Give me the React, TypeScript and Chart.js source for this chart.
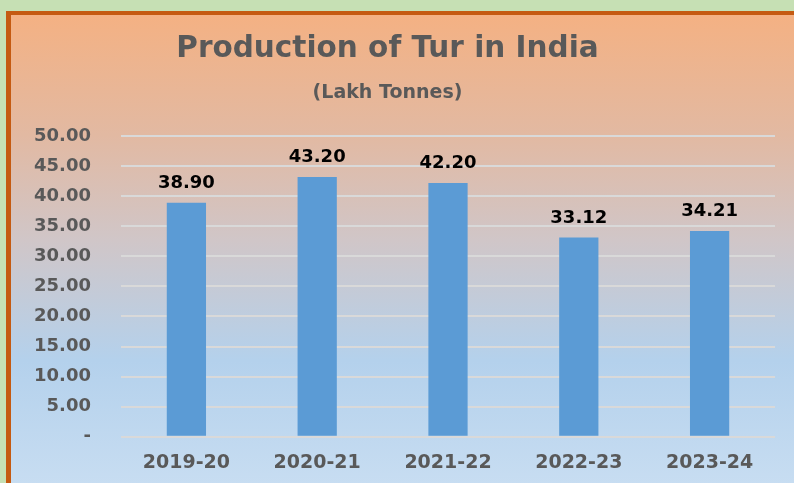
import React, { useEffect, useRef } from "react";
import { Chart, registerables } from "chart.js";

Chart.register(...registerables);

const categories = ["2019-20", "2020-21", "2021-22", "2022-23", "2023-24"];
const production = [38.9, 43.2, 42.2, 33.12, 34.21];
const titleText = "Production of Tur in India";
const subtitleText = "(Lakh Tonnes)";

const FONT = "'DejaVu Sans', Verdana, sans-serif";

const valueLabels = {
  id: "valueLabels",
  afterDatasetsDraw(chart: any) {
    const ctx = chart.ctx;
    const meta = chart.getDatasetMeta(0);
    ctx.save();
    ctx.font = `bold 18px ${FONT}`;
    ctx.fillStyle = "#000000";
    ctx.textAlign = "center";
    ctx.textBaseline = "alphabetic";
    meta.data.forEach((bar: any, i: number) => {
      const v = chart.data.datasets[0].data[i] as number;
      ctx.fillText(v.toFixed(2), bar.x, bar.y - 15);
    });
    ctx.restore();
  },
};

export default function App() {
  const ref = useRef<HTMLCanvasElement>(null);
  useEffect(() => {
    if (!ref.current) return;
    const chart = new Chart(ref.current, {
      type: "bar",
      data: {
        labels: categories,
        datasets: [
          {
            data: production,
            backgroundColor: "#5B9BD5",
            barPercentage: 0.3,
            categoryPercentage: 1,
          },
        ],
      },
      options: {
        animation: false,
        responsive: true,
        maintainAspectRatio: false,
        layout: { padding: { left: 0, right: 19, top: 0, bottom: 9.6 } },
        plugins: {
          legend: { display: false },
          tooltip: { enabled: false },
          title: {
            display: true,
            text: titleText,
            color: "#595959",
            font: { family: FONT, size: 29.5, weight: "bold" },
            padding: { top: 31.5, bottom: 14.3 },
          },
          subtitle: {
            display: true,
            text: subtitleText,
            color: "#595959",
            font: { family: FONT, size: 19, weight: "bold" },
            padding: { top: 0, bottom: 32 },
          },
        },
        scales: {
          x: {
            afterFit(scale: any) {
              scale.height = 36.6;
            },
            grid: { display: false, drawTicks: false },
            border: { display: false },
            ticks: {
              color: "#595959",
              font: { family: FONT, size: 19, weight: "bold" },
              padding: 14.6,
            },
          },
          y: {
            min: 0,
            max: 50,
            afterFit(scale: any) {
              scale.width = 121;
            },
            grid: { color: "#D9D9D9", lineWidth: 2, drawTicks: false },
            border: { display: false },
            ticks: {
              stepSize: 5,
              color: "#595959",
              font: { family: FONT, size: 18, weight: "bold" },
              padding: 30,
              callback: (v: any) => (Number(v) === 0 ? "-" : Number(v).toFixed(2)),
            },
          },
        },
      },
      plugins: [valueLabels],
    });
    return () => chart.destroy();
  }, []);

  return (
    <div
      style={{
        position: "fixed",
        left: 0,
        top: 0,
        width: 794,
        height: 483,
        background: "#C6E0B4",
        overflow: "hidden",
      }}
    >
      <div
        style={{
          position: "absolute",
          left: 6,
          top: 11,
          width: 800,
          height: 480,
          borderLeft: "5px solid #C55A11",
          borderTop: "4px solid #C55A11",
          background:
            "linear-gradient(#F4B183 0%, #E2B9A2 25%, #D0C6C8 47%, #B4D1EC 72%, #C9DEF2 100%)",
        }}
      />
      <div style={{ position: "absolute", left: 0, top: 0, width: 794, height: 483 }}>
        <canvas ref={ref} />
      </div>
    </div>
  );
}
